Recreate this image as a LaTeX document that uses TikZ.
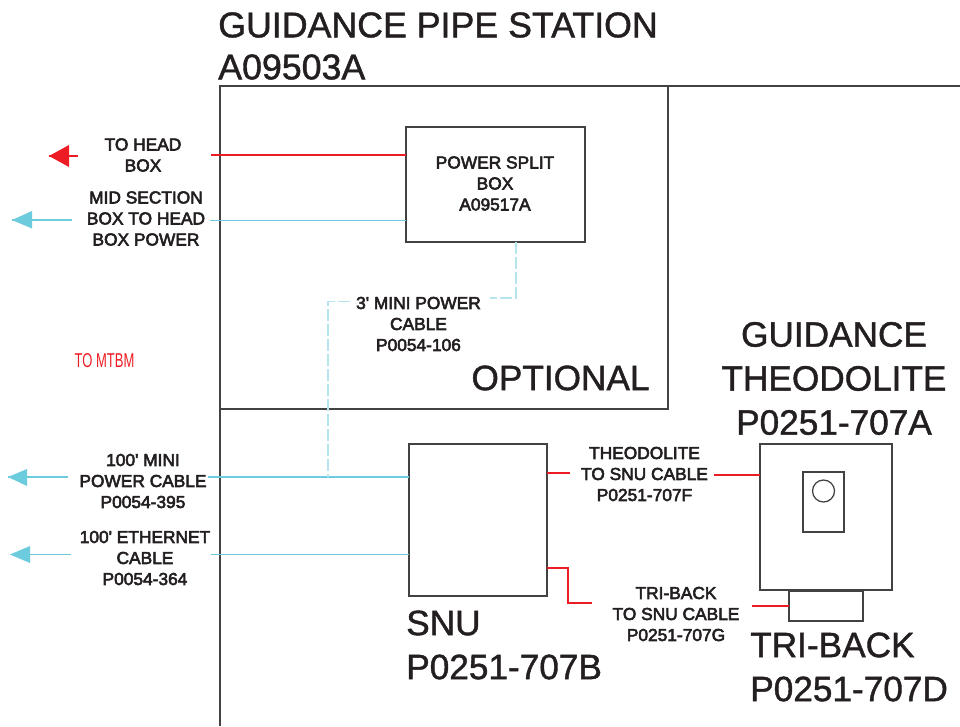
\documentclass[tikz,border=0pt]{standalone}
\usepackage{fontspec}
\setmainfont{Liberation Sans}
\newfontfamily\lblfont[FakeBold=3.2]{Liberation Sans}
\newfontfamily\bigfont[FakeBold=1.2]{Liberation Sans}
\usetikzlibrary{calc}
\definecolor{ink}{HTML}{231F20}
\definecolor{wire}{HTML}{6CCBDC}
\definecolor{dashwire}{HTML}{B5E6EE}
\definecolor{redwire}{HTML}{ED1C24}
\tikzset{
  x=0.75pt,y=-0.75pt,
  frame/.style={draw=ink!85!white,line width=0.95pt},
  boxnode/.style={draw=ink!85!white,line width=0.95pt,fill=none,inner sep=0pt,outer sep=0pt},
  big/.style={text=ink,inner sep=0pt,font=\bigfont\fontsize{26.4pt}{33pt}\selectfont,align=left,anchor=west},
  title/.style={big,font=\bigfont\fontsize{26.8pt}{33pt}\selectfont},
  opt/.style={text=ink,inner sep=0pt,font=\bigfont\fontsize{26.4pt}{33pt}\selectfont,align=center},
  lbl/.style={text=ink,inner sep=0pt,font=\lblfont\fontsize{13pt}{15.75pt}\selectfont,align=center},
  cyanw/.style={draw=wire,line width=0.85pt},
  redw/.style={draw=redwire,line width=0.95pt},
  dashw/.style={draw=dashwire,line width=0.9pt,dash pattern=on 9pt off 2.2pt},
  cyanhead/.style={fill=wire,draw=none},
  redhead/.style={fill=redwire,draw=none}
}
\begin{document}
\begin{tikzpicture}
\useasboundingbox (0,0) rectangle (960,726);
% frame
\coordinate (fa) at (220,726);
\coordinate (fb) at (220,86);
\coordinate (fc) at (960,86);
\coordinate (oa) at (668,86);
\coordinate (ob) at (668,409);
\coordinate (oc) at (220,409);
\draw[frame] (fa) -- (fb) -- (fc);
\draw[frame] (oa) -- (ob) -- (oc);
% boxes
\node[boxnode,minimum width=134.25pt,minimum height=86.25pt] (pbox) at (495.5,184.5) {};
\node[boxnode,minimum width=103.5pt,minimum height=114pt] (snu) at (478,520) {};
\node[boxnode,minimum width=99pt,minimum height=109.5pt] (theo) at (826,517) {};
\node[boxnode,minimum width=30.75pt,minimum height=45pt] (win) at (823.5,502) {};
\node[boxnode,circle,minimum size=16.5pt] (lens) at (823.5,491) {};
\node[boxnode,minimum width=55.5pt,minimum height=22.5pt] (tri) at (826,606) {};
% texts
\node[title] (t1) at (218,25) {GUIDANCE PIPE STATION};
\node[title] (t2) at (218,67) {A09503A};
\node[opt] (t3) at (560.5,378) {OPTIONAL};
\node[opt] (t4) at (834,378.5) {GUIDANCE\\THEODOLITE\\P0251-707A};
\node[big] (t5) at (406,645) {SNU\\P0251-707B};
\node[big] (t6) at (750,667) {TRI-BACK\\P0251-707D};
\node[lbl] (l1) at (495,183.5) {POWER SPLIT\\BOX\\A09517A};
\node[lbl] (l2) at (143,155) {TO HEAD\\BOX};
\node[lbl] (l3) at (146,218.5) {MID SECTION\\BOX TO HEAD\\BOX POWER};
\node[lbl] (l4) at (418.5,324) {3' MINI POWER\\CABLE\\P0054-106};
\node[lbl] (l5) at (143,481) {100' MINI\\POWER CABLE\\P0054-395};
\node[lbl] (l6) at (145,558) {100' ETHERNET\\CABLE\\P0054-364};
\node[lbl] (l7) at (644.5,474) {THEODOLITE\\TO SNU CABLE\\P0251-707F};
\node[lbl] (l8) at (676,614) {TRI-BACK\\TO SNU CABLE\\P0251-707G};
\node[text=redwire,inner sep=0pt,font=\fontsize{15pt}{15pt}\selectfont,xscale=0.65] (mtbm) at (104.5,361) {TO MTBM};
% connectors
\coordinate (c1) at (211,155);
\draw[redw] (c1) -- (c1 -| pbox.west);
\coordinate (c2) at (210,220.5);
\draw[cyanw] (c2) -- (c2 -| pbox.west);
\coordinate (c3) at (208,477);
\draw[cyanw] (c3) -- (c3 -| snu.west);
\coordinate (c4) at (211,554.5);
\draw[cyanw] (c4) -- (c4 -| snu.west);
% dashed
\coordinate (d1) at (516,298);
\coordinate (d2) at (490,298);
\coordinate (d3) at (350,301.5);
\coordinate (d4) at (328,301.5);
\draw[dashw] (pbox.south -| d1) -- (d1) -- (d2);
\draw[dashw] (d3) -- (d4) -- (d4 |- c3);
% red right
\coordinate (r1) at (570,473);
\draw[redw] (r1 -| snu.east) -- (r1);
\coordinate (r2) at (714,475);
\draw[redw] (r2) -- (r2 -| theo.west);
\coordinate (r3) at (568,568);
\coordinate (r4) at (592,603);
\draw[redw] (r3 -| snu.east) -- (r3) -- (r3 |- r4) -- (r4);
\coordinate (r5) at (752,606);
\draw[redw] (r5) -- (r5 -| tri.west);
% arrows on the left
\coordinate (a1) at (49,156);
\coordinate (a1t) at (78,156);
\draw[redw] (a1) -- (a1t);
\fill[redhead] (a1) -- (69,145) -- (69,167) -- cycle;
\coordinate (a2) at (12,220);
\coordinate (a2t) at (72,220);
\draw[cyanw] (a2) -- (a2t);
\fill[cyanhead] (a2) -- (32,211) -- (32,228.5) -- cycle;
\coordinate (a3) at (8,477);
\coordinate (a3t) at (68,477);
\draw[cyanw] (a3) -- (a3t);
\fill[cyanhead] (a3) -- (27,469) -- (27,486) -- cycle;
\coordinate (a4) at (10,554.5);
\coordinate (a4t) at (71,554.5);
\draw[cyanw] (a4) -- (a4t);
\fill[cyanhead] (a4) -- (30,546) -- (30,563) -- cycle;
\end{tikzpicture}
\end{document}
